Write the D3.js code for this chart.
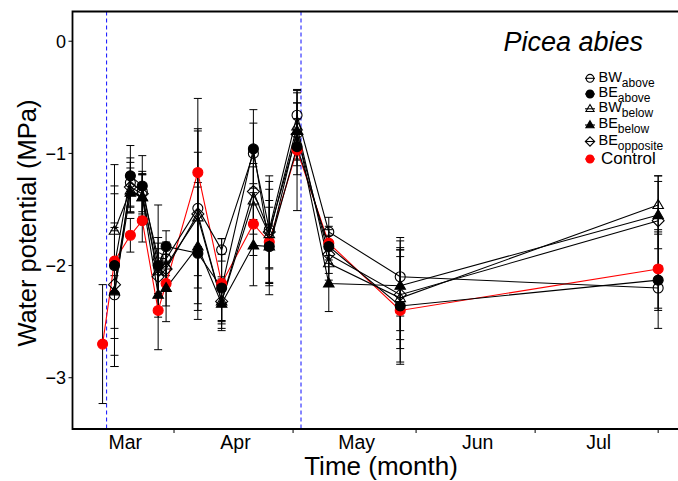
<!DOCTYPE html>
<html>
<head>
<meta charset="utf-8">
<script src="https://cdn.jsdelivr.net/npm/d3@7"></script>
<style>
  html, body { margin: 0; padding: 0; background: #fff; }
  svg { display: block; font-family: "Liberation Sans", Arial, sans-serif; }
</style>
</head>
<body>
<div id="chart"></div>
<script>
// sampling dates
const dates = ["2015-03-14", "2015-03-17", "2015-03-21", "2015-03-24", "2015-03-28", "2015-03-30",
  "2015-04-07", "2015-04-13", "2015-04-21", "2015-04-25", "2015-05-02", "2015-05-10",
  "2015-05-28", "2015-08-01"];

// mean water potential (MPa)
const control    = [-2.70, -1.96, -1.73, -1.60, -2.40, -2.16, -1.17, -2.16, -1.63, -1.79, -0.97, -1.80, -2.40, -2.03];
const bwAbove    = [null, -2.26, -1.26, -1.34, -1.93, -1.94, -1.49, -1.86, -1.00, -1.68, -0.66, -1.70, -2.10, -2.20];
const beAbove    = [null, -2.00, -1.20, -1.29, -2.00, -1.83, -1.89, -2.20, -0.96, -1.83, -0.94, -1.83, -2.36, -2.13];
const bwBelow    = [null, -1.69, -1.33, -1.39, -2.05, -2.00, -1.57, -2.32, -1.42, -1.72, -0.76, -1.98, -2.29, -1.46];
const beBelow    = [null, -2.23, -1.35, -1.39, -2.26, -2.20, -1.83, -2.34, -1.82, -1.83, -0.80, -2.16, -2.18, -1.55];
const beOpposite = [null, -2.17, -1.30, -1.36, -2.10, -2.03, -1.54, -2.32, -1.34, -1.70, -0.83, -1.90, -2.26, -1.60];

// standard deviations
const controlSd    = [0.53, 0.60, 0.15, 0.19, 0.35, 0.20, 0.66, 0.40, 0.28, 0.47, 0.54, 0.15, 0.48, 0.35];
const bwAboveSd    = [null, 0.64, 0.22, 0.18, 0.47, 0.15, 0.71, 0.10, 0.27, 0.48, 0.22, 0.13, 0.35, 0.20];
const beAboveSd    = [null, 0.90, 0.27, 0.27, 0.25, 0.14, 0.59, 0.30, 0.35, 0.35, 0.25, 0.15, 0.50, 0.43];
const bwBelowSd    = [null, 0.40, 0.20, 0.20, 0.20, 0.18, 0.77, 0.20, 0.30, 0.30, 0.30, 0.15, 0.45, 0.26];
const beBelowSd    = [null, 0.57, 0.18, 0.20, 0.20, 0.30, 0.57, 0.24, 0.36, 0.20, 0.25, 0.25, 0.40, 0.30];
const beOppositeSd = [null, 0.48, 0.22, 0.18, 0.30, 0.20, 0.55, 0.17, 0.25, 0.45, 0.28, 0.17, 0.40, 0.40];

// treatment period markers
const markerDates = ["2015-03-15", "2015-05-03"];

const yTicks = [0, -1, -2, -3];
const monthLabels = ["Mar", "Apr", "May", "Jun", "Jul"];

const width = 678, height = 481;
const plotLeft = 72.5, plotTop = 11.5, plotBottom = 429;

const parse = d3.timeParse("%Y-%m-%d");
const parseT = d3.timeParse("%Y-%m-%dT%H:%M");

const x = d3.scaleTime()
  .domain([parseT("2015-03-06T10:00"), parse("2015-08-06")])
  .range([plotLeft, width]);
const y = d3.scaleLinear()
  .domain([-3.457, 0.265])
  .range([plotBottom, plotTop]);

// symbol paths (R style pch)
const shapes = {
  circle: r => `M${-r},0A${r},${r} 0 1,0 ${r},0A${r},${r} 0 1,0 ${-r},0Z`,
  triangle: r => `M0,${-r * 1.1}L${r * 1.05},${r * 0.7}L${-r * 1.05},${r * 0.7}Z`,
  diamond: r => `M0,${-r * 1.2}L${r * 1.2},0L0,${r * 1.2}L${-r * 1.2},0Z`
};

// drawing order: control underneath
const series = [
  { name: "Control", values: control, sd: controlSd, color: "#ff0000", shape: "circle", fill: true },
  { name: "BW", sub: "above", values: bwAbove, sd: bwAboveSd, color: "#000", shape: "circle", fill: false },
  { name: "BW", sub: "below", values: bwBelow, sd: bwBelowSd, color: "#000", shape: "triangle", fill: false },
  { name: "BE", sub: "opposite", values: beOpposite, sd: beOppositeSd, color: "#000", shape: "diamond", fill: false },
  { name: "BE", sub: "above", values: beAbove, sd: beAboveSd, color: "#000", shape: "circle", fill: true },
  { name: "BE", sub: "below", values: beBelow, sd: beBelowSd, color: "#000", shape: "triangle", fill: true }
];

const svg = d3.select("#chart").append("svg")
  .attr("width", width)
  .attr("height", height);

const plot = svg.append("g");

// blue dashed lines
plot.selectAll("line.mark")
  .data(markerDates)
  .enter()
  .append("line")
  .attr("x1", d => x(parse(d)))
  .attr("x2", d => x(parse(d)))
  .attr("y1", plotTop)
  .attr("y2", plotBottom)
  .attr("stroke", "#2424ff")
  .attr("stroke-width", 1.1)
  .attr("stroke-dasharray", "4,3");

// error bars
series.forEach(s => {
  const pts = dates.map((d, i) => ({ t: parse(d), v: s.values[i], e: s.sd[i] })).filter(p => p.v != null);
  const g = plot.append("g").attr("stroke", "#000").attr("stroke-width", 1);
  pts.forEach(p => {
    const cx = x(p.t);
    g.append("line").attr("x1", cx).attr("x2", cx).attr("y1", y(p.v + p.e)).attr("y2", y(p.v - p.e));
    g.append("line").attr("x1", cx - 4).attr("x2", cx + 4).attr("y1", y(p.v + p.e)).attr("y2", y(p.v + p.e));
    g.append("line").attr("x1", cx - 4).attr("x2", cx + 4).attr("y1", y(p.v - p.e)).attr("y2", y(p.v - p.e));
  });
});

// lines and points
const line = d3.line().defined(d => d.v != null).x(d => x(d.t)).y(d => y(d.v));
series.forEach(s => {
  const pts = dates.map((d, i) => ({ t: parse(d), v: s.values[i] }));
  plot.append("path")
    .datum(pts)
    .attr("d", line)
    .attr("fill", "none")
    .attr("stroke", s.color)
    .attr("stroke-width", 1.1);
});
series.forEach(s => {
  const pts = dates.map((d, i) => ({ t: parse(d), v: s.values[i] })).filter(p => p.v != null);
  plot.selectAll(null)
    .data(pts)
    .enter()
    .append("path")
    .attr("transform", d => `translate(${x(d.t)},${y(d.v)})`)
    .attr("d", shapes[s.shape](5))
    .attr("fill", s.fill ? s.color : "none")
    .attr("stroke", s.color)
    .attr("stroke-width", 1.1);
});

// frame
svg.append("path")
  .attr("d", `M${width},${plotTop}H${plotLeft}V${plotBottom}H${width}`)
  .attr("fill", "none")
  .attr("stroke", "#000")
  .attr("stroke-width", 1.8);

// y axis ticks and labels
const yAxis = svg.append("g");
yTicks.forEach(t => {
  yAxis.append("line").attr("x1", plotLeft - 4).attr("x2", plotLeft).attr("y1", y(t)).attr("y2", y(t))
    .attr("stroke", "#000").attr("stroke-width", 1);
  yAxis.append("text")
    .attr("x", plotLeft - 6.5)
    .attr("y", y(t))
    .attr("dy", "0.36em")
    .attr("text-anchor", "end")
    .attr("font-size", 18)
    .text(t === 0 ? "0" : "\u2212" + Math.abs(t));
});

// x axis: month ticks and labels
const monthStarts = d3.timeMonth.range(parse("2015-03-01"), parse("2015-08-02"));
svg.append("g").selectAll("line")
  .data(monthStarts.filter(m => x(m) > plotLeft))
  .enter()
  .append("line")
  .attr("x1", d => x(d)).attr("x2", d => x(d))
  .attr("y1", plotBottom).attr("y2", plotBottom + 4)
  .attr("stroke", "#000").attr("stroke-width", 1);

svg.append("g").selectAll("text")
  .data(monthLabels)
  .enter()
  .append("text")
  .attr("x", (d, i) => {
    const a = Math.max(x(monthStarts[i]), plotLeft);
    const b = x(monthStarts[i + 1]);
    return (a + b) / 2 + 2;
  })
  .attr("y", 449)
  .attr("text-anchor", "middle")
  .attr("font-size", 19.5)
  .text(d => d);

// axis titles
svg.append("text")
  .attr("x", 381)
  .attr("y", 474.5)
  .attr("text-anchor", "middle")
  .attr("font-size", 26)
  .text("Time (month)");

svg.append("text")
  .attr("transform", "translate(36,223) rotate(-90)")
  .attr("text-anchor", "middle")
  .attr("font-size", 25.5)
  .text("Water potential (MPa)");

// species title
svg.append("text")
  .attr("x", 643)
  .attr("y", 51)
  .attr("text-anchor", "end")
  .attr("font-size", 27)
  .attr("font-style", "italic")
  .text("Picea abies");

// legend
const legendOrder = [1, 4, 2, 5, 3, 0];
const legendY = [78.3, 94, 108.8, 125, 141.5, 159];
const legend = svg.append("g");
legendOrder.forEach((si, k) => {
  const s = series[si];
  const ly = legendY[k];
  legend.append("line")
    .attr("x1", 585).attr("x2", 595).attr("y1", ly).attr("y2", ly)
    .attr("stroke", s.color).attr("stroke-width", 1.1);
  legend.append("path")
    .attr("transform", `translate(590,${ly})`)
    .attr("d", shapes[s.shape](3.9))
    .attr("fill", s.fill ? s.color : "none")
    .attr("stroke", s.color)
    .attr("stroke-width", 1.1);
  if (s.sub) {
    const t = legend.append("text")
      .attr("x", 598.5)
      .attr("y", ly + 3.2)
      .attr("font-size", 14.5);
    t.append("tspan").text(s.name);
    t.append("tspan")
      .attr("dy", 5)
      .attr("font-size", 12)
      .text(s.sub);
  } else {
    legend.append("text")
      .attr("x", 601)
      .attr("y", ly + 4.8)
      .attr("font-size", 17)
      .text(s.name);
  }
});
</script>
</body>
</html>
